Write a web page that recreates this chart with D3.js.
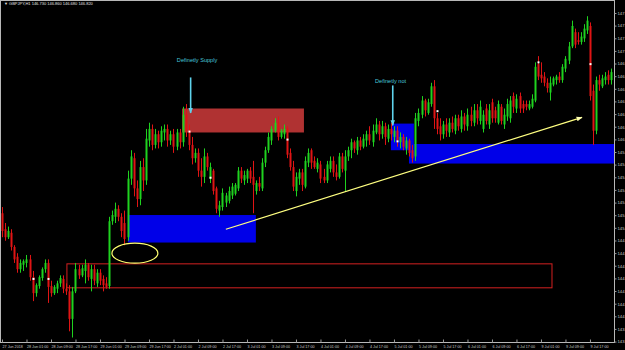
<!DOCTYPE html>
<html>
<head>
<meta charset="utf-8">
<script src="https://cdn.jsdelivr.net/npm/d3@7"></script>
<style>
html, body { margin:0; padding:0; background:#000; overflow:hidden; }
svg { display:block; }
</style>
</head>
<body>
<div id="chart"></div>
<script>

var symbol = "GBPJPY,H1"

var timeLabels = ["27 Jun 2018","28 Jun 01:00","28 Jun 09:00","28 Jun 17:00","29 Jun 01:00","29 Jun 09:00",
	"29 Jun 17:00","2 Jul 01:00","2 Jul 09:00","2 Jul 17:00","3 Jul 01:00","3 Jul 09:00","3 Jul 17:00",
	"4 Jul 01:00","4 Jul 09:00","4 Jul 17:00","5 Jul 01:00","5 Jul 09:00","5 Jul 17:00","6 Jul 01:00",
	"6 Jul 09:00","6 Jul 17:00","9 Jul 01:00","9 Jul 09:00","9 Jul 17:00"]
var labelEvery = 8 // bars between time labels

var priceTicks = [147.486,147.344,147.201,147.059,146.917,146.774,146.632,146.490,146.347,146.205,
	146.062,145.920,145.778,145.635,145.493,145.350,145.208,145.066,144.923,144.781,144.639,144.496,
	144.354,144.211,144.069,143.927,143.784]

// H1 bars: open, high, low, close
var candles = [
[145.23,145.30,144.96,145.03],[145.05,145.12,144.92,144.96],[144.96,145.08,144.94,145.03],[145.01,145.05,144.81,144.85],
[144.85,144.87,144.67,144.71],[144.74,144.78,144.56,144.60],[144.60,144.71,144.56,144.67],[144.65,144.71,144.58,144.69],
[144.67,144.76,144.62,144.71],[144.71,144.76,144.47,144.51],[144.51,144.58,144.24,144.33],[144.33,144.44,144.29,144.42],
[144.41,144.53,144.38,144.51],[144.50,144.62,144.47,144.60],[144.60,144.71,144.56,144.67],[144.67,144.71,144.22,144.40],
[144.41,144.47,144.29,144.33],[144.33,144.42,144.31,144.40],[144.38,144.47,144.33,144.44],[144.44,144.53,144.40,144.50],
[144.49,144.53,144.33,144.38],[144.38,144.44,144.31,144.35],[144.35,144.42,143.90,144.04],[144.04,144.40,143.83,144.35],
[144.35,144.67,144.33,144.60],[144.60,144.65,144.49,144.53],[144.53,144.65,144.51,144.61],[144.58,144.71,144.44,144.65],
[144.65,144.67,144.47,144.51],[144.49,144.65,144.35,144.60],[144.60,144.65,144.42,144.47],[144.44,144.60,144.40,144.56],
[144.56,144.60,144.42,144.47],[144.49,144.53,144.35,144.42],[144.44,144.51,144.38,144.40],[144.41,145.19,144.38,145.14],
[145.14,145.26,145.10,145.21],[145.19,145.35,145.12,145.28],[145.28,145.32,145.14,145.19],[145.19,145.23,144.96,145.03],
[145.12,145.26,144.87,144.94],[144.96,145.71,144.92,145.62],[145.62,145.94,145.55,145.87],[145.85,145.91,145.42,145.51],
[145.51,145.60,145.30,145.39],[145.39,145.82,145.32,145.75],[145.75,145.85,145.48,145.60],[145.60,146.18,145.55,146.07],
[146.05,146.25,145.98,146.18],[146.18,146.23,145.94,146.00],[146.00,146.18,145.96,146.12],[146.12,146.16,145.96,146.03],
[146.03,146.21,145.98,146.16],[146.14,146.23,146.05,146.18],[146.18,146.23,145.98,146.05],[146.05,146.16,146.00,146.12],
[146.12,146.18,145.91,145.98],[145.98,146.18,145.94,146.14],[146.14,146.18,145.96,146.03],[146.03,146.43,145.98,146.34],
[146.34,146.46,146.09,146.16],[146.16,146.23,145.94,146.00],[146.00,146.09,145.78,145.85],[145.85,145.96,145.80,145.91],
[145.91,145.96,145.64,145.71],[145.71,145.85,145.53,145.64],[145.64,145.96,145.57,145.87],[145.87,145.91,145.71,145.75],
[145.62,145.80,145.57,145.75],[145.71,145.73,145.44,145.48],[145.51,145.53,145.23,145.28],[145.26,145.37,145.19,145.32],
[145.30,145.51,145.26,145.46],[145.35,145.46,145.30,145.43],[145.37,145.53,145.34,145.48],[145.43,145.57,145.39,145.53],
[145.45,145.57,145.43,145.55],[145.51,145.75,145.48,145.71],[145.71,145.75,145.57,145.62],[145.60,145.71,145.55,145.66],
[145.62,145.73,145.57,145.71],[145.71,145.75,145.57,145.62],[145.64,145.82,145.23,145.55],[145.48,145.60,145.44,145.57],
[145.57,145.64,145.48,145.53],[145.51,145.85,145.48,145.80],[145.80,145.98,145.75,145.94],[145.94,146.14,145.91,146.09],
[146.05,146.21,146.00,146.18],[146.16,146.30,146.14,146.25],[146.25,146.32,146.05,146.09],[146.09,146.18,146.07,146.16],
[146.12,146.23,146.07,146.18],[146.18,146.21,145.85,145.89],[145.91,145.96,145.71,145.75],[145.75,145.82,145.48,145.53],
[145.48,145.69,145.42,145.64],[145.62,145.73,145.55,145.69],[145.69,145.73,145.48,145.55],[145.53,145.87,145.51,145.82],
[145.80,145.96,145.75,145.91],[145.94,145.96,145.73,145.80],[145.82,145.87,145.73,145.75],[145.73,145.85,145.69,145.80],
[145.78,145.82,145.57,145.62],[145.64,145.73,145.57,145.60],[145.60,145.82,145.57,145.78],[145.73,145.87,145.69,145.82],
[145.82,145.87,145.64,145.69],[145.69,145.78,145.60,145.64],[145.64,145.91,145.62,145.87],[145.87,145.91,145.69,145.73],
[145.71,145.94,145.48,145.87],[145.87,145.98,145.82,145.94],[145.94,146.07,145.85,146.03],[146.03,146.05,145.91,145.96],
[145.94,146.09,145.89,146.05],[146.05,146.09,145.94,145.98],[145.98,146.12,145.96,146.07],[146.05,146.16,145.98,146.12],
[146.12,146.21,146.00,146.05],[146.03,146.23,145.98,146.16],[146.14,146.30,146.12,146.23],[146.23,146.27,146.05,146.12],
[146.12,146.27,146.07,146.21],[146.21,146.25,146.00,146.09],[146.07,146.23,146.03,146.18],[146.18,146.25,146.05,146.12],
[146.09,146.21,146.03,146.16],[146.16,146.21,145.98,146.05],[146.03,146.14,145.96,146.09],[146.09,146.12,145.94,145.98],
[145.96,146.09,145.89,146.05],[146.05,146.07,145.87,145.91],[145.94,146.00,145.80,145.85],[145.87,146.36,145.82,146.30],
[146.27,146.41,146.21,146.36],[146.34,146.55,146.30,146.50],[146.50,146.52,146.32,146.39],[146.36,146.52,146.34,146.48],
[146.46,146.70,146.43,146.66],[146.66,146.73,146.18,146.30],[146.30,146.36,146.12,146.18],[146.21,146.30,146.05,146.12],
[146.12,146.27,146.07,146.23],[146.23,146.30,146.09,146.16],[146.14,146.30,146.09,146.25],[146.25,146.32,146.14,146.18],
[146.16,146.34,146.12,146.30],[146.30,146.34,146.16,146.21],[146.18,146.39,146.14,146.32],[146.32,146.36,146.16,146.23],
[146.21,146.41,146.16,146.34],[146.34,146.43,146.21,146.27],[146.25,146.46,146.21,146.39],[146.39,146.46,146.23,146.30],
[146.27,146.50,146.23,146.43],[146.18,146.39,146.14,146.34],[146.41,146.46,146.23,146.27],[146.23,146.46,146.18,146.39],
[146.48,146.52,146.25,146.30],[146.39,146.43,146.25,146.30],[146.25,146.50,146.23,146.46],[146.43,146.46,146.23,146.27],
[146.23,146.41,146.18,146.34],[146.32,146.52,146.27,146.46],[146.30,146.55,146.25,146.50],[146.55,146.59,146.36,146.43],
[146.41,146.57,146.36,146.52],[146.55,146.59,146.36,146.41],[146.46,146.50,146.36,146.41],[146.46,146.50,146.39,146.43],
[146.41,146.50,146.39,146.46],[146.43,146.57,146.41,146.52],[146.50,146.93,146.48,146.88],[146.91,147.00,146.73,146.77],
[146.79,146.93,146.70,146.75],[146.77,146.82,146.66,146.70],[146.70,146.75,146.59,146.64],[146.59,146.77,146.50,146.70],
[146.68,146.77,146.66,146.75],[146.73,146.79,146.68,146.77],[146.77,146.82,146.70,146.73],[146.73,146.91,146.70,146.88],
[146.86,147.00,146.82,146.97],[146.95,147.16,146.91,147.11],[147.11,147.40,147.09,147.34],[147.27,147.31,147.09,147.13],
[147.18,147.27,147.13,147.16],[147.16,147.27,147.13,147.22],[147.20,147.36,147.16,147.31],[147.29,147.45,147.25,147.40],
[147.34,147.38,146.50,146.55],[146.61,146.68,146.00,146.16],[146.16,146.77,146.12,146.73],[146.73,146.79,146.61,146.68],
[146.66,146.79,146.64,146.75],[146.73,146.82,146.68,146.77],[146.79,146.84,146.68,146.73],[146.73,146.86,146.68,146.82]
]

// white fractal dots: bar index, price
var fractalBars = [10, 15, 61, 68, 93, 129, 142, 175, 192]
var fractalPrices = [144.49, 144.49, 146.15, 145.63, 146.06, 146.04, 146.38, 146.93, 146.91]

// drawn objects, in bars / prices
var zoneBars = [[58.8, 98.6], [41.1, 82.9], [127, 134.5], [132.9, 200.5]]
var zonePrices = [[146.41, 146.14], [145.21, 144.90], [146.24, 145.94], [146.01, 145.79]]
var zoneKinds = ["supply", "demand", "demand", "demand"]
var boxBars = [21.2, 179.6]
var boxPrices = [144.66, 144.39]
var ellipseAt = [43.4, 144.78, 7.5, 0.113] // bar, price, half width in bars, half height in price
var trendLine = [[73.1, 145.05], [189.4, 146.31]]
var arrowBars = [61.6, 127.6]
var arrowPrices = [[146.76, 146.36], [146.67, 146.22]]
var notes = ["Definetly Supply", "Definetly not"]
var noteBars = [57.1, 121.8]
var notePrices = [146.93, 146.70]

var W = 625, H = 350
var right = 614, bottom = 342

var x = d3.scaleLinear().domain([0, candles.length - 1]).range([2, 611.4])
var y = d3.scaleLinear().domain([priceTicks[priceTicks.length - 1], priceTicks[0]]).range([341.6, 13])

var svg = d3.select("#chart").append("svg")
	.attr("width", W)
	.attr("height", H)
	.style("background", "#000")
	.style("font-family", "'Liberation Sans', Arial, sans-serif")

svg.append("defs").append("clipPath").attr("id", "plot")
	.append("rect").attr("x", 1).attr("y", 1).attr("width", right - 1).attr("height", bottom - 1)

var defs = svg.select("defs")
defs.append("marker").attr("id", "cyanHead")
	.attr("viewBox", "0 0 10 10").attr("refX", 9).attr("refY", 5)
	.attr("markerWidth", 3.5).attr("markerHeight", 3.5).attr("orient", "auto")
	.append("path").attr("d", "M0,1 L10,5 L0,9 Z").attr("fill", "#5fd3ec")
defs.append("marker").attr("id", "yellowHead")
	.attr("viewBox", "0 0 10 10").attr("refX", 9).attr("refY", 5)
	.attr("markerWidth", 5).attr("markerHeight", 5).attr("orient", "auto")
	.append("path").attr("d", "M0,1 L10,5 L0,9 Z").attr("fill", "#ffffb0")

var plot = svg.append("g").attr("clip-path", "url(#plot)")

// zones behind the bars
var zoneFill = { supply: "#b03232", demand: "#0000e8" }
plot.selectAll("rect.zone").data(zoneBars).enter().append("rect")
	.attr("class", "zone")
	.attr("x", function(d){ return x(d[0]) })
	.attr("width", function(d){ return x(d[1]) - x(d[0]) })
	.attr("y", function(d, i){ return y(zonePrices[i][0]) })
	.attr("height", function(d, i){ return y(zonePrices[i][1]) - y(zonePrices[i][0]) })
	.attr("fill", function(d, i){ return zoneFill[zoneKinds[i]] })

plot.append("rect")
	.attr("x", x(boxBars[0]))
	.attr("width", x(boxBars[1]) - x(boxBars[0]))
	.attr("y", y(boxPrices[0]))
	.attr("height", y(boxPrices[1]) - y(boxPrices[0]))
	.attr("fill", "none")
	.attr("stroke", "#d42020")
	.attr("stroke-width", 1)

// candles
var bull = "#1fd21f", bear = "#e01414"
var bars = plot.selectAll("g.bar").data(candles).enter().append("g").attr("class", "bar")
bars.append("line")
	.attr("x1", function(d, i){ return Math.round(x(i)) + 0.5 })
	.attr("x2", function(d, i){ return Math.round(x(i)) + 0.5 })
	.attr("y1", function(d){ return y(d[1]) })
	.attr("y2", function(d){ return y(d[2]) })
	.attr("stroke", function(d){ return d[3] >= d[0] ? bull : bear })
	.attr("stroke-width", 1)
bars.append("rect")
	.attr("x", function(d, i){ return Math.round(x(i)) - 0.5 })
	.attr("width", 2)
	.attr("y", function(d){ return y(Math.max(d[0], d[3])) })
	.attr("height", function(d){ return Math.max(1, Math.abs(y(d[0]) - y(d[3]))) })
	.attr("fill", function(d){ return d[3] >= d[0] ? bull : bear })

plot.selectAll("rect.fractal").data(fractalBars).enter().append("rect")
	.attr("class", "fractal")
	.attr("x", function(d){ return Math.round(x(d)) - 0.5 })
	.attr("y", function(d, i){ return y(fractalPrices[i]) - 1 })
	.attr("width", 2).attr("height", 2)
	.attr("fill", "#fff")

// hand drawn objects
plot.append("ellipse")
	.attr("cx", x(ellipseAt[0]))
	.attr("cy", y(ellipseAt[1]))
	.attr("rx", x(ellipseAt[2]) - x(0))
	.attr("ry", y(ellipseAt[1] - ellipseAt[3]) - y(ellipseAt[1]))
	.attr("fill", "none")
	.attr("stroke", "#ffff70")
	.attr("stroke-width", 1.2)

plot.append("line")
	.attr("x1", x(trendLine[0][0])).attr("y1", y(trendLine[0][1]))
	.attr("x2", x(trendLine[1][0])).attr("y2", y(trendLine[1][1]))
	.attr("stroke", "#ffff80")
	.attr("stroke-width", 1.2)
	.attr("marker-end", "url(#yellowHead)")

plot.selectAll("line.arrow").data(arrowBars).enter().append("line")
	.attr("class", "arrow")
	.attr("x1", function(d){ return x(d) }).attr("x2", function(d){ return x(d) })
	.attr("y1", function(d, i){ return y(arrowPrices[i][0]) })
	.attr("y2", function(d, i){ return y(arrowPrices[i][1]) })
	.attr("stroke", "#5fd3ec")
	.attr("stroke-width", 1.6)
	.attr("marker-end", "url(#cyanHead)")

plot.selectAll("text.note").data(notes).enter().append("text")
	.attr("class", "note")
	.attr("x", function(d, i){ return x(noteBars[i]) })
	.attr("y", function(d, i){ return y(notePrices[i]) })
	.attr("fill", "#48c8dc")
	.style("font-size", "5.6px")
	.text(function(d){ return d })

// frame
svg.append("rect")
	.attr("x", 0.5).attr("y", 0.5)
	.attr("width", right).attr("height", bottom)
	.attr("fill", "none").attr("stroke", "#b8b8b8").attr("stroke-width", 1)

// axes
var xAxis = d3.axisBottom(x)
	.tickValues(timeLabels.map(function(d, i){ return i * labelEvery }))
	.tickFormat(function(d){ return timeLabels[d / labelEvery] })
	.tickSizeInner(-3).tickSizeOuter(0)
var gx = svg.append("g").attr("transform", "translate(0," + (bottom + 0.5) + ")").call(xAxis)
gx.select(".domain").remove()
gx.selectAll("line").attr("stroke", "#999")
gx.selectAll("text")
	.attr("y", 5.3).attr("dy", 0)
	.attr("text-anchor", "start")
	.attr("fill", "#c8c8c8")
	.style("font-size", "3.7px")
	.style("font-family", "'Liberation Sans', Arial, sans-serif")

// price labels run past the window edge, as in the terminal screenshot
var yAxis = d3.axisRight(y)
	.tickValues(priceTicks)
	.tickFormat(d3.format(".3f"))
	.tickSizeInner(2).tickSizeOuter(0)
var gy = svg.append("g").attr("transform", "translate(" + (right + 0.5) + ",0)").call(yAxis)
gy.select(".domain").remove()
gy.selectAll("line").attr("stroke", "#999")
gy.selectAll("text")
	.attr("x", 3)
	.attr("fill", "#c8c8c8")
	.style("font-size", "4.2px")
	.style("font-family", "'Liberation Sans', Arial, sans-serif")

// title
var last = candles[candles.length - 1]
svg.append("text")
	.attr("x", 4).attr("y", 5)
	.attr("fill", "#e0e0e0")
	.style("font-size", "4px")
	.text("\u25BC " + symbol + " " + last.map(d3.format(".3f")).join(" "))

</script>
</body>
</html>
